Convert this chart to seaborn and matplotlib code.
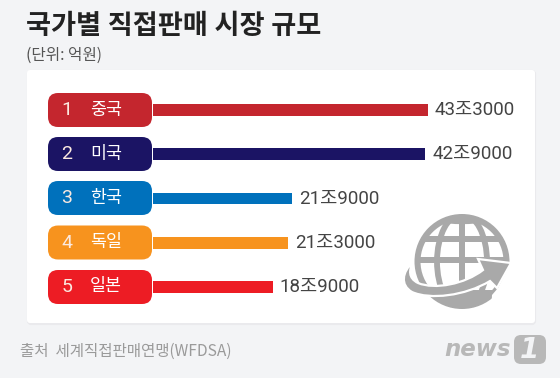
import numpy as np
import pandas as pd
import matplotlib
matplotlib.use('Agg')
import matplotlib.pyplot as plt
from matplotlib.patches import FancyBboxPatch, Circle, Ellipse, Polygon, Rectangle, PathPatch
from matplotlib.path import Path
import seaborn as sns

ranks = ['1', '2', '3', '4', '5']
countries = ['중국', '미국', '한국', '독일', '일본']
values = [43.3, 42.9, 21.9, 21.3, 18.9]
labels = ['43조3000', '42조9000', '21조9000', '21조3000', '18조9000']
colors = ['#c4262e', '#1b1464', '#0071bc', '#f7931e', '#ed1c24']
title = '국가별 직접판매 시장 규모'
unit = '(단위: 억원)'
source = '출처  세계직접판매연맹(WFDSA)'

sns.set_theme(style='white')
plt.rcParams['font.family'] = ['Noto Sans CJK KR', 'DejaVu Sans']
MIXED = ['Roboto', 'Noto Sans CJK KR']

W, H = 560, 378
BG = '#f3f4f6'
fig = plt.figure(figsize=(W / 100, H / 100), dpi=100, facecolor=BG)

# overlay in pixel coords for panel, pills and icon
bg = fig.add_axes([0, 0, 1, 1], zorder=1)
bg.set_xlim(0, W)
bg.set_ylim(H, 0)
bg.axis('off')
bg.add_patch(FancyBboxPatch((28, 71), 507, 253, boxstyle='round,pad=0,rounding_size=3',
                            fc='#eaeaed', ec='#eaeaed', lw=1.5))
bg.add_patch(FancyBboxPatch((27, 70), 508, 253, boxstyle='round,pad=0,rounding_size=3',
                            fc='white', ec='none'))

# bars
ax = fig.add_axes([152.6 / W, 1 - 309 / H, 6.36 * 60 / W, 221 / H], zorder=2)
df = pd.DataFrame({'country': countries, 'value': values})
sns.barplot(data=df, x='value', y='country', hue='country', palette=colors,
            legend=False, width=0.27, saturation=1, edgecolor='none', linewidth=0, ax=ax)
ax.set_xlim(0, 60)
ax.set_ylim(4.5, -0.5)
ax.axis('off')
ax.patch.set_alpha(0)
for i, (v, lab) in enumerate(zip(values, labels)):
    ax.text(v + 1.1, i, lab, va='center', ha='left', fontsize=13.5, color='#444444', family=MIXED)

top = fig.add_axes([0, 0, 1, 1], zorder=3)
top.set_xlim(0, W)
top.set_ylim(H, 0)
top.axis('off')
centers = [110, 154, 198, 242.5, 287]
for y, r, c, col in zip(centers, ranks, countries, colors):
    top.add_patch(FancyBboxPatch((48, y - 17), 104, 34, boxstyle='round,pad=0,rounding_size=10',
                                 fc=col, ec='none'))
    top.text(67, y, r, color='#fbe9e0', fontsize=14, ha='center', va='center', family=['Roboto'])
    top.text(106, y - 0.5, c, color='white', fontsize=12.5, ha='center', va='center')

top.text(26, 26, title, fontsize=19.6, fontweight='bold', color='#222222', va='center', ha='left', family=MIXED)
top.text(26, 55, unit, fontsize=11.3, color='#555555', va='center', ha='left')
top.text(20, 351, source, fontsize=11.2, color='#9a9a9a', va='center', ha='left')

# globe icon
GREY = '#a9a9a9'
cx, cy, rad = 462, 261.5, 47.5
top.add_patch(Circle((cx, cy), rad, fc=GREY, ec='none'))
top.add_patch(Circle((cx, cy), rad - 6, fc='white', ec='none'))
clip = Circle((cx, cy), rad - 1, transform=top.transData)
grid = [Ellipse((cx, cy), 50, 2 * rad, fc='none', ec=GREY, lw=4.2),
        Rectangle((cx - 3, cy - rad), 6, 2 * rad, fc=GREY, ec='none'),
        Rectangle((cx - rad, 236), 2 * rad, 6, fc=GREY, ec='none'),
        Rectangle((cx - rad, 257), 2 * rad, 6, fc=GREY, ec='none'),
        Ellipse((cx, 196), 130, 50, fc='none', ec=GREY, lw=4.5),
        Rectangle((cx - rad, 290), 2 * rad, 25, fc=GREY, ec='none')]
for g in grid:
    top.add_patch(g)
    g.set_clip_path(clip)

# piece of the globe that the arrow cuts off
top.add_patch(Polygon([(511, 263), (515, 314), (491, 314), (492, 295), (498, 288)], fc='white', ec='none'))

# swoosh and arrow
sw = Path([(413, 262), (402, 272), (400, 285), (412, 292),
           (430, 300), (465, 296), (490, 281),
           (497, 288), (511, 263), (478, 259), (483, 270),
           (465, 284), (435, 290), (418, 283),
           (408, 278), (409, 270), (413, 262)],
          [1, 4, 4, 4, 4, 4, 4,
           2, 2, 2, 2,
           4, 4, 4, 4, 4, 4])
top.add_patch(PathPatch(sw, fc=GREY, ec='white', lw=1.6, joinstyle='miter'))

# news1 logo
top.text(478, 350, 'news', fontsize=16.5, fontweight='bold', style='italic', color='#b8b8b8',
         va='center', ha='center', family=['DejaVu Sans'])
top.add_patch(FancyBboxPatch((514, 335), 32, 29, boxstyle='round,pad=0,rounding_size=7',
                             fc='#b8b8b8', ec='none'))
top.text(529, 350, '1', fontsize=20, fontweight='bold', style='italic', color=BG, va='center',
         ha='center', family=['DejaVu Sans'])

fig.savefig('out.png', dpi=100, facecolor=BG)
